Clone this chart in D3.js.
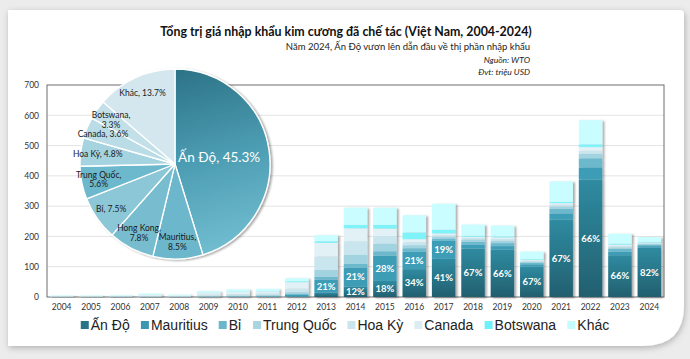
<!DOCTYPE html>
<html>
<head>
<meta charset="utf-8">
<script src="https://cdn.jsdelivr.net/npm/d3@7"></script>
<style>
body { margin: 0; background: #ececec; }
svg { display: block; font-family: Lato, "Open Sans", sans-serif; }
</style>
</head>
<body>
<script>
// du lieu (trieu USD), doc tu hinh
var years = ["2004","2005","2006","2007","2008","2009","2010","2011","2012","2013","2014",
             "2015","2016","2017","2018","2019","2020","2021","2022","2023","2024"];
var series = ["Ấn Độ","Mauritius","Bỉ","Trung Quốc","Hoa Kỳ","Canada","Botswana","Khác"];

var anDo      = [0,0,0,0,0,0,0,1, 2,14,35, 53,92,126,160,156,100,256,388,138,163];
var mauritius = [0,0,0,0,0,1,1,1, 5,43,62, 83,57, 59, 12, 12,  8, 20, 40, 12,  5];
var bi        = [1,1,1,1,1,1,2,2, 3,10,12, 15,12,  8, 10, 10,  5, 15, 30,  9,  4];
var trungQuoc = [0,0,1,1,1,2,2,3, 6,22,30, 25,10,  6,  8,  8,  4,  8, 15,  5,  3];
var hoaKy     = [1,1,1,2,1,4,5,5,12,45,45, 25,10,  5,  5,  6,  3,  6, 10,  5,  3];
var canada    = [1,1,1,3,2,5,7,7,21,45,43, 25,10,  6,  4,  5,  3,  5, 12,  4,  2];
var botswana  = [0,0,0,1,0,1,1,1, 3, 5,11, 12,22, 12,  3,  3,  2,  4,  9,  3,  2];
var khac      = [2,2,2,3,3,5,7,7,10,20,57, 57,57, 86, 37, 36, 25, 68, 80, 33, 16];

var yTicks = [0,100,200,300,400,500,600,700];

// banh: ty trong nam 2024
var pieNames  = ["Ấn Độ","Mauritius","Hong Kong","Bỉ","Trung Quốc","Hoa Kỳ","Canada","Botswana","Khác"];
var pieValues = [45.3, 8.5, 7.8, 7.5, 5.6, 4.8, 3.6, 3.3, 13.7];

var W = 690, H = 359;
var margin = {top: 85, right: 26, bottom: 62, left: 47};

var barColors = ["#2b7d91","#3d9db7","#6cb9cd","#a2d3e0","#c9e6ee","#e2f1f6","#7ff3fa","#c9fdff"];
var swatchColors = ["#2a7386","#3b96b0","#6db5cb","#a9d4e1","#cbe5ee","#dcecf2","#6ff0fa","#c4fbfd"];
var pieColors = [null,"#6cb7cb","#78bdcf","#8cc7d7","#6cb8cd","#a5d3df","#b9dce6","#c3e0e9","#d4e7ee"];

var svg = d3.select("body").append("svg")
    .attr("width", W)
    .attr("height", H);

var defs = svg.append("defs");
var sh = defs.append("filter").attr("id","shadow").attr("x","-20%").attr("y","-20%").attr("width","150%").attr("height","150%");
sh.append("feDropShadow").attr("dx",2).attr("dy",1).attr("stdDeviation",1)
  .attr("flood-color","#000").attr("flood-opacity",0.35);
var cardSh = defs.append("filter").attr("id","cardShadow").attr("x","-5%").attr("y","-5%").attr("width","110%").attr("height","115%");
cardSh.append("feDropShadow").attr("dx",1).attr("dy",2).attr("stdDeviation",3)
  .attr("flood-color","#000").attr("flood-opacity",0.25);

var gIndia = defs.append("linearGradient").attr("id","gIndia")
    .attr("x1",0).attr("y1",0).attr("x2",0).attr("y2",1);
gIndia.append("stop").attr("offset","0%").attr("stop-color","#2f8ba1");
gIndia.append("stop").attr("offset","100%").attr("stop-color","#225f6f");

// the card
svg.append("path")
  .attr("d","M8,10 H680 Q684,10 684,14 V305 Q684,346 643,346 H8 Z")
  .attr("fill","#fff")
  .attr("filter","url(#cardShadow)");

// titles
svg.append("text").attr("x",346).attr("y",36).attr("text-anchor","middle")
  .attr("font-size",12.4).attr("font-weight","bold").attr("fill","#111")
  .text("Tổng trị giá nhập khẩu kim cương đã chế tác (Việt Nam, 2004-2024)");
svg.append("text").attr("x",530).attr("y",50).attr("text-anchor","end")
  .attr("font-size",9.5).attr("fill","#222")
  .text("Năm 2024, Ấn Độ vươn lên dẫn đầu về thị phần nhập khẩu");
svg.append("text").attr("x",530).attr("y",63).attr("text-anchor","end")
  .attr("font-size",8.5).attr("font-style","italic").attr("fill","#222")
  .text("Nguồn: WTO");
svg.append("text").attr("x",530).attr("y",75).attr("text-anchor","end")
  .attr("font-size",8.5).attr("font-style","italic").attr("fill","#222")
  .text("Đvt: triệu USD");

var x = d3.scaleBand()
    .domain(years)
    .range([margin.left, W - margin.right])
    .paddingInner(0.2)
    .paddingOuter(0.1);

var y = d3.scaleLinear()
    .domain([0,700])
    .range([H - margin.bottom, margin.top]);

// grid
svg.append("g").selectAll("line")
  .data(yTicks.slice(1, -1))
  .enter().append("line")
  .attr("x1", margin.left).attr("x2", W - margin.right)
  .attr("y1", function(d){ return y(d); })
  .attr("y2", function(d){ return y(d); })
  .attr("stroke","#e4e4e4");

// frame
svg.append("rect")
  .attr("x", margin.left).attr("y", margin.top)
  .attr("width", W - margin.right - margin.left)
  .attr("height", H - margin.bottom - margin.top)
  .attr("fill","none").attr("stroke","#6d6d6d");

// axes
var yAxis = svg.append("g")
  .attr("transform","translate(" + margin.left + ",0)")
  .call(d3.axisLeft(y).tickValues(yTicks).tickSize(0).tickPadding(8));
yAxis.select(".domain").remove();
yAxis.selectAll("text").attr("font-size",8.5).attr("fill","#333").attr("font-family","Lato");

var xAxis = svg.append("g")
  .attr("transform","translate(0," + (H - margin.bottom) + ")")
  .call(d3.axisBottom(x).tickSize(0).tickPadding(7));
xAxis.select(".domain").remove();
xAxis.selectAll("text").attr("font-size",8.5).attr("fill","#333").attr("font-family","Lato");

// stacked bars
var allSeries = [anDo, mauritius, bi, trungQuoc, hoaKy, canada, botswana, khac];
var table = years.map(function(yr, i){
  var row = {year: yr};
  series.forEach(function(s, k){ row[s] = allSeries[k][i]; });
  return row;
});
var stacked = d3.stack().keys(series)(table);

var perYear = years.map(function(yr, i){
  return stacked.map(function(layer, k){
    return {k: k, year: yr, y0: layer[i][0], y1: layer[i][1], total: d3.sum(allSeries, function(a){ return a[i]; })};
  });
});

var bars = svg.append("g").selectAll("g.bar")
  .data(perYear)
  .enter().append("g")
  .attr("class","bar")
  .attr("filter","url(#shadow)");

bars.selectAll("rect")
  .data(function(d){ return d; })
  .enter().append("rect")
  .attr("x", function(d){ return x(d.year); })
  .attr("width", x.bandwidth())
  .attr("y", function(d){ return y(d.y1); })
  .attr("height", function(d){ return y(d.y0) - y(d.y1); })
  .attr("fill", function(d){ return d.k === 0 ? "url(#gIndia)" : barColors[d.k]; });

// percent labels for An Do and Mauritius
var pctData = [];
perYear.forEach(function(arr){
  arr.slice(0,2).forEach(function(d){
    if (d.total > 0 && (d.y1 - d.y0) / d.total >= 0.1) pctData.push(d);
  });
});
svg.append("g").selectAll("text")
  .data(pctData)
  .enter().append("text")
  .attr("x", function(d){ return x(d.year) + x.bandwidth()/2; })
  .attr("y", function(d){ return y((d.y0 + d.y1)/2); })
  .attr("dy","0.35em")
  .attr("text-anchor","middle")
  .attr("font-size",9.5).attr("font-weight","bold").attr("fill","#fff")
  .text(function(d){ return Math.round((d.y1 - d.y0) / d.total * 100) + "%"; });

// pie
var cx = 175, cy = 164, R = 95;
// gradient coords are local to the translated pie group
var gPie = defs.append("linearGradient").attr("id","gPie")
  .attr("gradientUnits","userSpaceOnUse")
  .attr("x1",-10).attr("y1",-R).attr("x2",40).attr("y2",R);
gPie.append("stop").attr("offset","0%").attr("stop-color","#2b7185");
gPie.append("stop").attr("offset","50%").attr("stop-color","#4c9db3");
gPie.append("stop").attr("offset","100%").attr("stop-color","#74bfd2");

var pie = d3.pie().sort(null).value(function(d){ return d; });
var arcs = pie(pieValues);
var arc = d3.arc().innerRadius(0).outerRadius(R);
var labelArc = d3.arc().innerRadius(R * 0.82).outerRadius(R * 0.82);
var mainArc = d3.arc().innerRadius(R * 0.47).outerRadius(R * 0.47);

var gp = svg.append("g").attr("transform","translate(" + cx + "," + cy + ")");
gp.append("g").attr("filter","url(#shadow)")
  .selectAll("path")
  .data(arcs)
  .enter().append("path")
  .attr("d", arc)
  .attr("fill", function(d, i){ return i === 0 ? "url(#gPie)" : pieColors[i]; })
  .attr("stroke","#fff").attr("stroke-width",1.3);

var pl = gp.append("g").selectAll("text")
  .data(arcs)
  .enter().append("text")
  .attr("transform", function(d, i){
    var c = i === 0 ? mainArc.centroid(d) : labelArc.centroid(d);
    return "translate(" + c[0] + "," + c[1] + ")";
  })
  .attr("text-anchor","middle")
  .attr("font-size", function(d, i){ return i === 0 ? 13.5 : 8.5; })
  .attr("fill", function(d, i){ return i === 0 ? "#fff" : "#1a1a1a"; });

pl.each(function(d, i){
  var t = d3.select(this);
  var name = pieNames[i], pct = d3.format(".1f")(pieValues[i]) + "%";
  if (i > 0 && name.length > 6) {
    t.append("tspan").attr("x",0).attr("dy","-0.2em").text(name + ",");
    t.append("tspan").attr("x",0).attr("dy","1.15em").text(pct);
  } else {
    t.append("tspan").attr("x",0).attr("dy","0.35em").text(name + ", " + pct);
  }
});

// legend
var leg = svg.append("g").attr("font-family","'Liberation Sans', Arial, sans-serif");
var items = leg.selectAll("g")
  .data(series)
  .enter().append("g");
items.append("rect")
  .attr("width",8).attr("height",8).attr("y",-3)
  .attr("fill", function(d, i){ return swatchColors[i]; });
items.append("text")
  .attr("x",10).attr("y",5.5)
  .attr("font-size",14).attr("fill","#222")
  .text(function(d){ return d; });
var gap = 11, pos = 0;
items.each(function(){
  var w = this.getBBox().width;
  this.__x = pos;
  pos += w + gap;
});
var startX = 345 - (pos - gap) / 2;
items.attr("transform", function(){ return "translate(" + (startX + this.__x) + ",324)"; });
</script>
</body>
</html>
